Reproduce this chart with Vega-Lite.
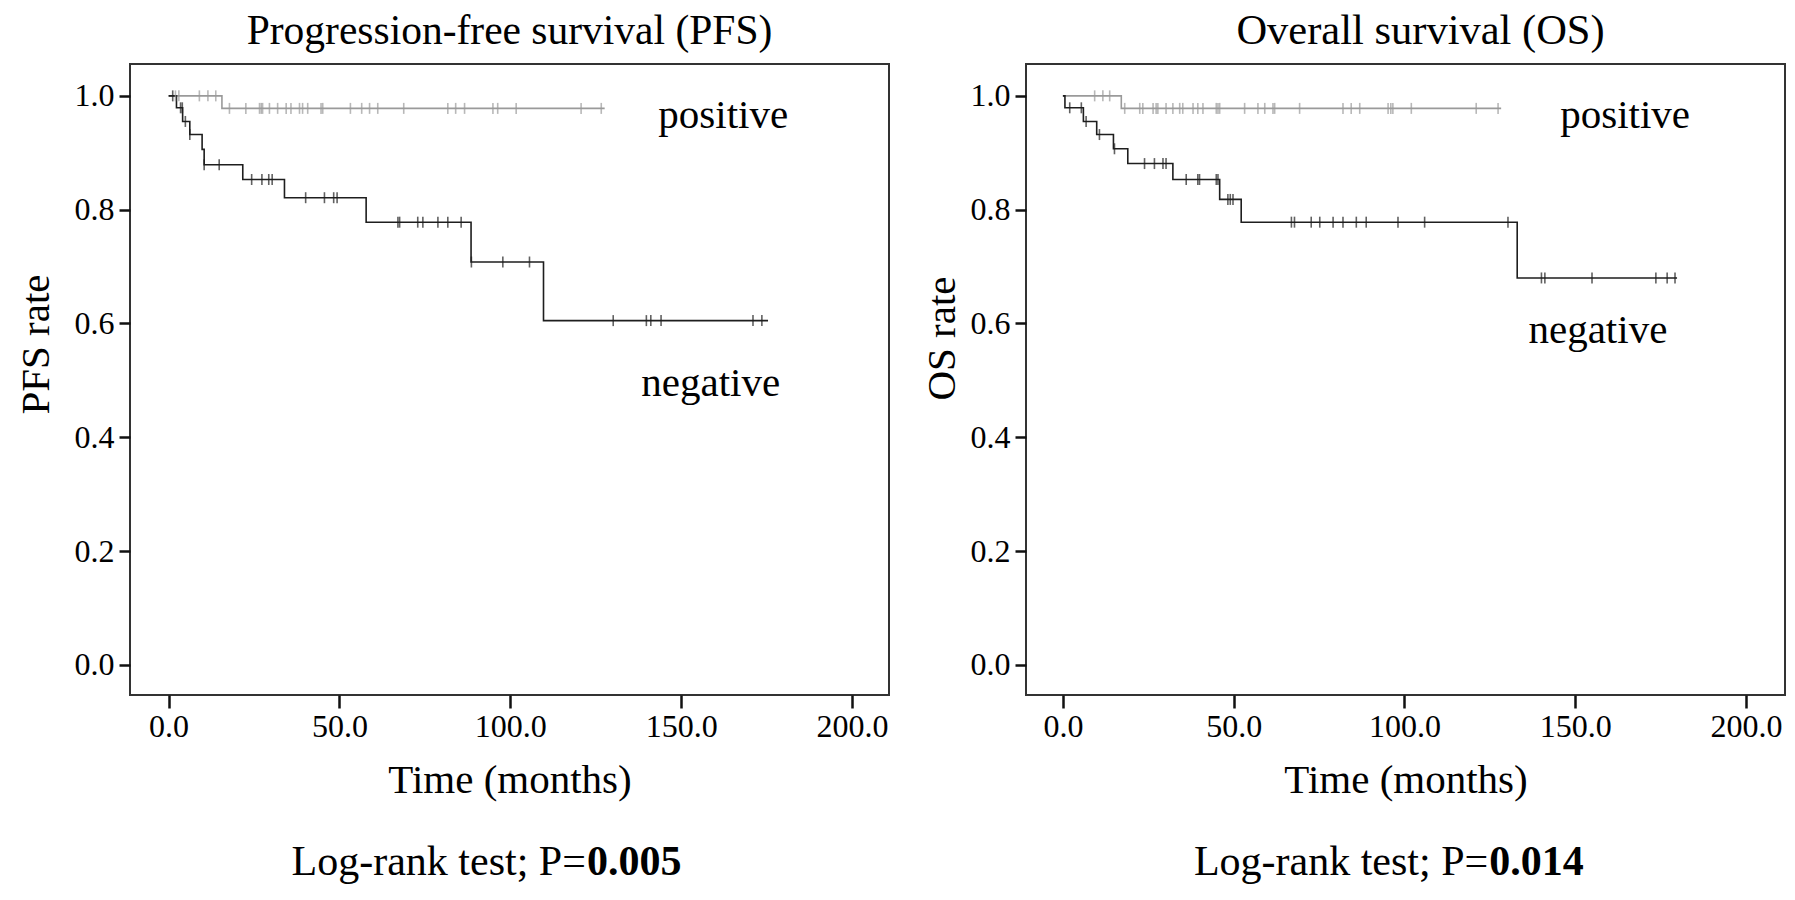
{
  "$schema": "https://vega.github.io/schema/vega-lite/v6.json",
  "background": "white",
  "padding": {"left": 14, "top": 8, "right": 5, "bottom": 5},
  "spacing": 137,
  "bounds": "flush",
  "config": {
    "font": "Liberation Serif",
    "view": {"stroke": "#333333", "strokeWidth": 2},
    "axis": {"domain": false, "grid": false, "labelFont": "Liberation Serif", "labelFontSize": 32, "labelColor": "#000000", "titleFont": "Liberation Serif", "titleFontSize": 41, "titleFontWeight": "normal", "titleColor": "#000000", "tickColor": "#111111", "tickWidth": 2.5},
    "title": {"font": "Liberation Serif", "fontSize": 41.5, "fontWeight": "normal", "color": "#000000", "offset": 12},
    "text": {"font": "Liberation Serif", "fontSize": 41, "color": "#000000"}
  },
  "datasets": {
    "curves": [
      {"panel": "PFS", "group": "positive", "time": 0, "surv": 1.0},
      {"panel": "PFS", "group": "positive", "time": 15.6, "surv": 0.978},
      {"panel": "PFS", "group": "positive", "time": 127.6, "surv": 0.978},
      {"panel": "PFS", "group": "negative", "time": 0, "surv": 1.0},
      {"panel": "PFS", "group": "negative", "time": 2.3, "surv": 0.979},
      {"panel": "PFS", "group": "negative", "time": 4.1, "surv": 0.955},
      {"panel": "PFS", "group": "negative", "time": 6.2, "surv": 0.932},
      {"panel": "PFS", "group": "negative", "time": 9.8, "surv": 0.906},
      {"panel": "PFS", "group": "negative", "time": 10.4, "surv": 0.879},
      {"panel": "PFS", "group": "negative", "time": 21.7, "surv": 0.853},
      {"panel": "PFS", "group": "negative", "time": 33.9, "surv": 0.821},
      {"panel": "PFS", "group": "negative", "time": 57.8, "surv": 0.778},
      {"panel": "PFS", "group": "negative", "time": 88.5, "surv": 0.708},
      {"panel": "PFS", "group": "negative", "time": 109.7, "surv": 0.605},
      {"panel": "PFS", "group": "negative", "time": 175.4, "surv": 0.605},
      {"panel": "OS", "group": "positive", "time": 0, "surv": 1.0},
      {"panel": "OS", "group": "positive", "time": 17.1, "surv": 0.978},
      {"panel": "OS", "group": "positive", "time": 128.3, "surv": 0.978},
      {"panel": "OS", "group": "negative", "time": 0, "surv": 1.0},
      {"panel": "OS", "group": "negative", "time": 0.6, "surv": 0.979},
      {"panel": "OS", "group": "negative", "time": 6.0, "surv": 0.955},
      {"panel": "OS", "group": "negative", "time": 9.9, "surv": 0.932},
      {"panel": "OS", "group": "negative", "time": 14.8, "surv": 0.907},
      {"panel": "OS", "group": "negative", "time": 19.0, "surv": 0.881},
      {"panel": "OS", "group": "negative", "time": 32.2, "surv": 0.853},
      {"panel": "OS", "group": "negative", "time": 45.9, "surv": 0.818},
      {"panel": "OS", "group": "negative", "time": 52.2, "surv": 0.778},
      {"panel": "OS", "group": "negative", "time": 133.0, "surv": 0.68},
      {"panel": "OS", "group": "negative", "time": 179.8, "surv": 0.68}
    ],
    "censors": [
      {"panel": "PFS", "group": "positive", "time": 2.0, "surv": 1.0},
      {"panel": "PFS", "group": "positive", "time": 3.0, "surv": 1.0},
      {"panel": "PFS", "group": "positive", "time": 9.0, "surv": 1.0},
      {"panel": "PFS", "group": "positive", "time": 11.5, "surv": 1.0},
      {"panel": "PFS", "group": "positive", "time": 13.8, "surv": 1.0},
      {"panel": "PFS", "group": "positive", "time": 17.8, "surv": 0.978},
      {"panel": "PFS", "group": "positive", "time": 22.6, "surv": 0.978},
      {"panel": "PFS", "group": "positive", "time": 26.6, "surv": 0.978},
      {"panel": "PFS", "group": "positive", "time": 27.1, "surv": 0.978},
      {"panel": "PFS", "group": "positive", "time": 27.5, "surv": 0.978},
      {"panel": "PFS", "group": "positive", "time": 29.5, "surv": 0.978},
      {"panel": "PFS", "group": "positive", "time": 31.9, "surv": 0.978},
      {"panel": "PFS", "group": "positive", "time": 34.4, "surv": 0.978},
      {"panel": "PFS", "group": "positive", "time": 35.8, "surv": 0.978},
      {"panel": "PFS", "group": "positive", "time": 38.3, "surv": 0.978},
      {"panel": "PFS", "group": "positive", "time": 39.2, "surv": 0.978},
      {"panel": "PFS", "group": "positive", "time": 40.7, "surv": 0.978},
      {"panel": "PFS", "group": "positive", "time": 44.6, "surv": 0.978},
      {"panel": "PFS", "group": "positive", "time": 45.1, "surv": 0.978},
      {"panel": "PFS", "group": "positive", "time": 53.2, "surv": 0.978},
      {"panel": "PFS", "group": "positive", "time": 56.5, "surv": 0.978},
      {"panel": "PFS", "group": "positive", "time": 58.8, "surv": 0.978},
      {"panel": "PFS", "group": "positive", "time": 61.2, "surv": 0.978},
      {"panel": "PFS", "group": "positive", "time": 68.8, "surv": 0.978},
      {"panel": "PFS", "group": "positive", "time": 81.7, "surv": 0.978},
      {"panel": "PFS", "group": "positive", "time": 84.0, "surv": 0.978},
      {"panel": "PFS", "group": "positive", "time": 86.6, "surv": 0.978},
      {"panel": "PFS", "group": "positive", "time": 94.9, "surv": 0.978},
      {"panel": "PFS", "group": "positive", "time": 96.3, "surv": 0.978},
      {"panel": "PFS", "group": "positive", "time": 101.7, "surv": 0.978},
      {"panel": "PFS", "group": "positive", "time": 120.7, "surv": 0.978},
      {"panel": "PFS", "group": "positive", "time": 126.6, "surv": 0.978},
      {"panel": "PFS", "group": "negative", "time": 1.2, "surv": 1.0},
      {"panel": "PFS", "group": "negative", "time": 3.5, "surv": 0.979},
      {"panel": "PFS", "group": "negative", "time": 4.0, "surv": 0.979},
      {"panel": "PFS", "group": "negative", "time": 4.9, "surv": 0.955},
      {"panel": "PFS", "group": "negative", "time": 6.2, "surv": 0.932},
      {"panel": "PFS", "group": "negative", "time": 10.4, "surv": 0.879},
      {"panel": "PFS", "group": "negative", "time": 14.8, "surv": 0.879},
      {"panel": "PFS", "group": "negative", "time": 24.3, "surv": 0.853},
      {"panel": "PFS", "group": "negative", "time": 27.3, "surv": 0.853},
      {"panel": "PFS", "group": "negative", "time": 29.3, "surv": 0.853},
      {"panel": "PFS", "group": "negative", "time": 30.3, "surv": 0.853},
      {"panel": "PFS", "group": "negative", "time": 40.1, "surv": 0.821},
      {"panel": "PFS", "group": "negative", "time": 45.6, "surv": 0.821},
      {"panel": "PFS", "group": "negative", "time": 48.3, "surv": 0.821},
      {"panel": "PFS", "group": "negative", "time": 49.3, "surv": 0.821},
      {"panel": "PFS", "group": "negative", "time": 67.1, "surv": 0.778},
      {"panel": "PFS", "group": "negative", "time": 67.6, "surv": 0.778},
      {"panel": "PFS", "group": "negative", "time": 72.9, "surv": 0.778},
      {"panel": "PFS", "group": "negative", "time": 74.4, "surv": 0.778},
      {"panel": "PFS", "group": "negative", "time": 78.8, "surv": 0.778},
      {"panel": "PFS", "group": "negative", "time": 81.7, "surv": 0.778},
      {"panel": "PFS", "group": "negative", "time": 85.6, "surv": 0.778},
      {"panel": "PFS", "group": "negative", "time": 88.6, "surv": 0.708},
      {"panel": "PFS", "group": "negative", "time": 97.8, "surv": 0.708},
      {"panel": "PFS", "group": "negative", "time": 105.6, "surv": 0.708},
      {"panel": "PFS", "group": "negative", "time": 130.1, "surv": 0.605},
      {"panel": "PFS", "group": "negative", "time": 139.8, "surv": 0.605},
      {"panel": "PFS", "group": "negative", "time": 141.1, "surv": 0.605},
      {"panel": "PFS", "group": "negative", "time": 144.1, "surv": 0.605},
      {"panel": "PFS", "group": "negative", "time": 171.0, "surv": 0.605},
      {"panel": "PFS", "group": "negative", "time": 173.6, "surv": 0.605},
      {"panel": "OS", "group": "positive", "time": 9.3, "surv": 1.0},
      {"panel": "OS", "group": "positive", "time": 11.7, "surv": 1.0},
      {"panel": "OS", "group": "positive", "time": 13.7, "surv": 1.0},
      {"panel": "OS", "group": "positive", "time": 18.1, "surv": 0.978},
      {"panel": "OS", "group": "positive", "time": 22.5, "surv": 0.978},
      {"panel": "OS", "group": "positive", "time": 23.4, "surv": 0.978},
      {"panel": "OS", "group": "positive", "time": 26.4, "surv": 0.978},
      {"panel": "OS", "group": "positive", "time": 27.3, "surv": 0.978},
      {"panel": "OS", "group": "positive", "time": 27.8, "surv": 0.978},
      {"panel": "OS", "group": "positive", "time": 30.2, "surv": 0.978},
      {"panel": "OS", "group": "positive", "time": 32.2, "surv": 0.978},
      {"panel": "OS", "group": "positive", "time": 34.2, "surv": 0.978},
      {"panel": "OS", "group": "positive", "time": 35.1, "surv": 0.978},
      {"panel": "OS", "group": "positive", "time": 38.1, "surv": 0.978},
      {"panel": "OS", "group": "positive", "time": 39.5, "surv": 0.978},
      {"panel": "OS", "group": "positive", "time": 41.0, "surv": 0.978},
      {"panel": "OS", "group": "positive", "time": 44.9, "surv": 0.978},
      {"panel": "OS", "group": "positive", "time": 45.4, "surv": 0.978},
      {"panel": "OS", "group": "positive", "time": 45.9, "surv": 0.978},
      {"panel": "OS", "group": "positive", "time": 53.2, "surv": 0.978},
      {"panel": "OS", "group": "positive", "time": 57.1, "surv": 0.978},
      {"panel": "OS", "group": "positive", "time": 59.1, "surv": 0.978},
      {"panel": "OS", "group": "positive", "time": 61.5, "surv": 0.978},
      {"panel": "OS", "group": "positive", "time": 62.0, "surv": 0.978},
      {"panel": "OS", "group": "positive", "time": 69.3, "surv": 0.978},
      {"panel": "OS", "group": "positive", "time": 82.0, "surv": 0.978},
      {"panel": "OS", "group": "positive", "time": 84.4, "surv": 0.978},
      {"panel": "OS", "group": "positive", "time": 86.9, "surv": 0.978},
      {"panel": "OS", "group": "positive", "time": 95.2, "surv": 0.978},
      {"panel": "OS", "group": "positive", "time": 96.0, "surv": 0.978},
      {"panel": "OS", "group": "positive", "time": 96.6, "surv": 0.978},
      {"panel": "OS", "group": "positive", "time": 102.0, "surv": 0.978},
      {"panel": "OS", "group": "positive", "time": 121.0, "surv": 0.978},
      {"panel": "OS", "group": "positive", "time": 127.4, "surv": 0.978},
      {"panel": "OS", "group": "negative", "time": 2.0, "surv": 0.979},
      {"panel": "OS", "group": "negative", "time": 5.4, "surv": 0.979},
      {"panel": "OS", "group": "negative", "time": 6.8, "surv": 0.955},
      {"panel": "OS", "group": "negative", "time": 10.7, "surv": 0.932},
      {"panel": "OS", "group": "negative", "time": 15.1, "surv": 0.907},
      {"panel": "OS", "group": "negative", "time": 23.9, "surv": 0.881},
      {"panel": "OS", "group": "negative", "time": 26.8, "surv": 0.881},
      {"panel": "OS", "group": "negative", "time": 29.3, "surv": 0.881},
      {"panel": "OS", "group": "negative", "time": 30.2, "surv": 0.881},
      {"panel": "OS", "group": "negative", "time": 36.1, "surv": 0.853},
      {"panel": "OS", "group": "negative", "time": 39.5, "surv": 0.853},
      {"panel": "OS", "group": "negative", "time": 40.0, "surv": 0.853},
      {"panel": "OS", "group": "negative", "time": 44.9, "surv": 0.853},
      {"panel": "OS", "group": "negative", "time": 45.4, "surv": 0.853},
      {"panel": "OS", "group": "negative", "time": 48.3, "surv": 0.818},
      {"panel": "OS", "group": "negative", "time": 49.0, "surv": 0.818},
      {"panel": "OS", "group": "negative", "time": 49.8, "surv": 0.818},
      {"panel": "OS", "group": "negative", "time": 66.9, "surv": 0.778},
      {"panel": "OS", "group": "negative", "time": 67.8, "surv": 0.778},
      {"panel": "OS", "group": "negative", "time": 72.7, "surv": 0.778},
      {"panel": "OS", "group": "negative", "time": 75.2, "surv": 0.778},
      {"panel": "OS", "group": "negative", "time": 79.1, "surv": 0.778},
      {"panel": "OS", "group": "negative", "time": 82.0, "surv": 0.778},
      {"panel": "OS", "group": "negative", "time": 85.9, "surv": 0.778},
      {"panel": "OS", "group": "negative", "time": 88.8, "surv": 0.778},
      {"panel": "OS", "group": "negative", "time": 98.1, "surv": 0.778},
      {"panel": "OS", "group": "negative", "time": 105.9, "surv": 0.778},
      {"panel": "OS", "group": "negative", "time": 130.3, "surv": 0.778},
      {"panel": "OS", "group": "negative", "time": 140.1, "surv": 0.68},
      {"panel": "OS", "group": "negative", "time": 141.1, "surv": 0.68},
      {"panel": "OS", "group": "negative", "time": 154.9, "surv": 0.68},
      {"panel": "OS", "group": "negative", "time": 173.6, "surv": 0.68},
      {"panel": "OS", "group": "negative", "time": 176.9, "surv": 0.68},
      {"panel": "OS", "group": "negative", "time": 179.2, "surv": 0.68}
    ],
    "notes": [{"positive": "positive", "negative": "negative", "logrank": "Log-rank test; P=", "p_pfs": "0.005", "p_os": "0.014"}]
  },
  "hconcat": [
    {
      "width": 759,
      "height": 631,
      "title": {"text": "Progression-free survival (PFS)"},
      "layer": [
        {
          "data": {"name": "curves"},
          "transform": [{"filter": "datum.panel == 'PFS'"}],
          "mark": {"type": "line", "interpolate": "step-after", "strokeWidth": 1.6},
          "encoding": {
            "x": {"field": "time", "type": "quantitative", "scale": {"domain": [-11.3, 210.8], "nice": false, "zero": false},
                  "axis": {"title": "Time (months)", "values": [0, 50, 100, 150, 200], "format": ".1f", "tickSize": 13, "labelPadding": 3, "titlePadding": 18}},
            "y": {"field": "surv", "type": "quantitative", "scale": {"domain": [-0.053, 1.056], "nice": false, "zero": false},
                  "axis": {"title": "PFS rate", "values": [0, 0.2, 0.4, 0.6, 0.8, 1.0], "format": ".1f", "tickSize": 11, "labelPadding": 5, "titleX": -94, "titleY": 280, "titleAlign": "center", "titleBaseline": "middle", "titleAngle": -90}},
            "color": {"field": "group", "type": "nominal", "scale": {"domain": ["positive", "negative"], "range": ["#9a9a9a", "#1e1e1e"]}, "legend": null}
          }
        },
        {
          "data": {"name": "censors"},
          "transform": [{"filter": "datum.panel == 'PFS'"}],
          "mark": {"type": "tick", "orient": "vertical", "size": 11, "thickness": 1.6},
          "encoding": {
            "x": {"field": "time", "type": "quantitative"},
            "y": {"field": "surv", "type": "quantitative"},
            "color": {"field": "group", "type": "nominal", "legend": null}
          }
        },
        {
          "data": {"name": "notes"},
          "mark": {"type": "text", "align": "left", "baseline": "alphabetic"},
          "encoding": {"x": {"datum": 143.3}, "y": {"datum": 0.944}, "text": {"field": "positive"}}
        },
        {
          "data": {"name": "notes"},
          "mark": {"type": "text", "align": "left", "baseline": "alphabetic"},
          "encoding": {"x": {"datum": 138.3}, "y": {"datum": 0.472}, "text": {"field": "negative"}}
        },
        {
          "data": {"name": "notes"},
          "mark": {"type": "text", "align": "right", "baseline": "alphabetic", "dx": -1, "fontSize": 42},
          "encoding": {"x": {"datum": 122.4}, "y": {"datum": -0.369}, "text": {"field": "logrank"}}
        },
        {
          "data": {"name": "notes"},
          "mark": {"type": "text", "align": "left", "baseline": "alphabetic", "fontWeight": "bold", "fontSize": 42},
          "encoding": {"x": {"datum": 122.4}, "y": {"datum": -0.369}, "text": {"field": "p_pfs"}}
        }
      ]
    },
    {
      "width": 759,
      "height": 631,
      "title": {"text": "Overall survival (OS)", "dx": 15, "fontSize": 42.5},
      "layer": [
        {
          "data": {"name": "curves"},
          "transform": [{"filter": "datum.panel == 'OS'"}],
          "mark": {"type": "line", "interpolate": "step-after", "strokeWidth": 1.6},
          "encoding": {
            "x": {"field": "time", "type": "quantitative", "scale": {"domain": [-10.8, 211.4], "nice": false, "zero": false},
                  "axis": {"title": "Time (months)", "values": [0, 50, 100, 150, 200], "format": ".1f", "tickSize": 13, "labelPadding": 3, "titlePadding": 18}},
            "y": {"field": "surv", "type": "quantitative", "scale": {"domain": [-0.053, 1.056], "nice": false, "zero": false},
                  "axis": {"title": "OS rate", "values": [0, 0.2, 0.4, 0.6, 0.8, 1.0], "format": ".1f", "tickSize": 11, "labelPadding": 5, "titleX": -84, "titleY": 274, "titleAlign": "center", "titleBaseline": "middle", "titleAngle": -90}},
            "color": {"field": "group", "type": "nominal", "scale": {"domain": ["positive", "negative"], "range": ["#9a9a9a", "#1e1e1e"]}, "legend": null}
          }
        },
        {
          "data": {"name": "censors"},
          "transform": [{"filter": "datum.panel == 'OS'"}],
          "mark": {"type": "tick", "orient": "vertical", "size": 11, "thickness": 1.6},
          "encoding": {
            "x": {"field": "time", "type": "quantitative"},
            "y": {"field": "surv", "type": "quantitative"},
            "color": {"field": "group", "type": "nominal", "legend": null}
          }
        },
        {
          "data": {"name": "notes"},
          "mark": {"type": "text", "align": "left", "baseline": "alphabetic"},
          "encoding": {"x": {"datum": 145.6}, "y": {"datum": 0.944}, "text": {"field": "positive"}}
        },
        {
          "data": {"name": "notes"},
          "mark": {"type": "text", "align": "left", "baseline": "alphabetic"},
          "encoding": {"x": {"datum": 136.3}, "y": {"datum": 0.566}, "text": {"field": "negative"}}
        },
        {
          "data": {"name": "notes"},
          "mark": {"type": "text", "align": "right", "baseline": "alphabetic", "dx": -1, "fontSize": 42},
          "encoding": {"x": {"datum": 124.8}, "y": {"datum": -0.369}, "text": {"field": "logrank"}}
        },
        {
          "data": {"name": "notes"},
          "mark": {"type": "text", "align": "left", "baseline": "alphabetic", "fontWeight": "bold", "fontSize": 42},
          "encoding": {"x": {"datum": 124.8}, "y": {"datum": -0.369}, "text": {"field": "p_os"}}
        }
      ]
    }
  ]
}
